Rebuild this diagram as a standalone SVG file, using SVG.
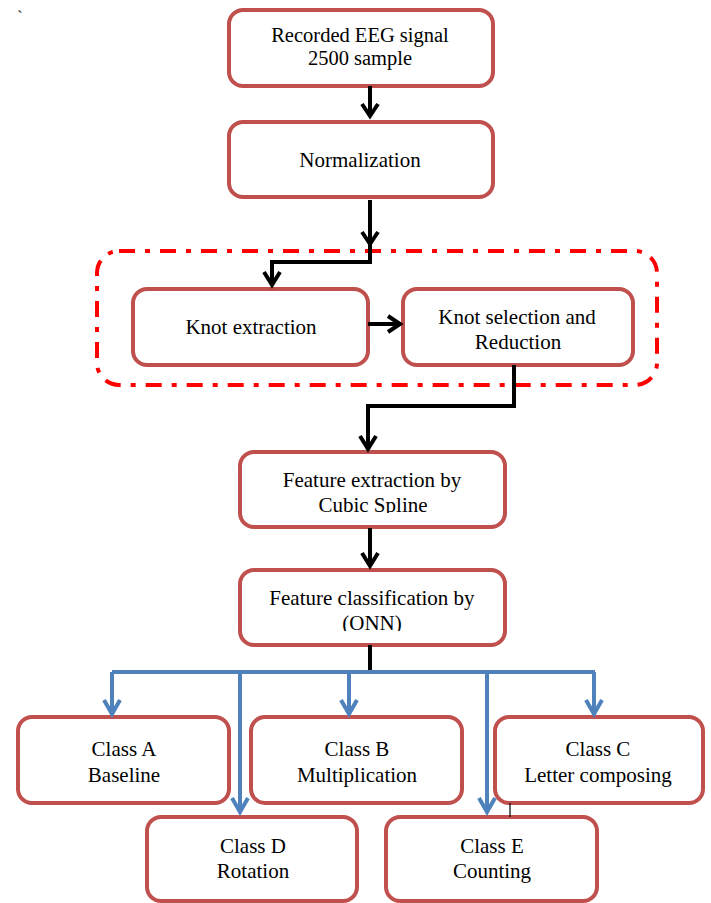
<svg xmlns="http://www.w3.org/2000/svg" width="711" height="903" viewBox="0 0 711 903">
<defs>
<style>
.box{fill:#fff;stroke:#C0504D;stroke-width:4}
.t{font-family:'Liberation Serif','Times New Roman',Tinos,'DejaVu Serif',serif;font-size:21px;fill:#000;text-anchor:middle}
.blk{fill:none;stroke:#000;stroke-width:4}
.blu{fill:none;stroke:#4F81BD;stroke-width:4}
.grp{fill:none;stroke:#FF0000;stroke-width:4;stroke-dasharray:16 10 5 10}
</style>
<clipPath id="c5"><rect x="240" y="452" width="265" height="61"/></clipPath>
<clipPath id="c6"><rect x="240" y="570" width="265" height="61"/></clipPath>
</defs>
<rect width="711" height="903" fill="#fff"/>
<text x="20" y="22" class="t" style="font-size:16px">`</text>
<g id="group-knot">
<rect x="97" y="251" width="560" height="134" rx="22" class="grp"/>
</g>
<g id="n1"><rect x="229" y="10" width="264" height="76" rx="14" class="box"/><text x="360" y="42" class="t" style="font-size:20.5px">Recorded EEG signal</text><text x="360" y="65" class="t" style="font-size:20.5px">2500 sample</text></g>
<g id="n2"><rect x="229" y="122" width="264" height="75" rx="14" class="box"/><text x="360" y="167" class="t">Normalization</text></g>
<g id="n3"><rect x="133" y="289" width="235" height="76" rx="14" class="box"/><text x="251" y="334" class="t">Knot extraction</text></g>
<g id="n4"><rect x="403" y="289" width="230" height="76" rx="14" class="box"/><text x="517" y="324" class="t">Knot selection and</text><text x="518" y="349" class="t">Reduction</text></g>
<g id="n5"><rect x="240" y="452" width="265" height="75" rx="14" class="box"/><text x="372" y="487" class="t">Feature extraction by</text><text x="373" y="512" class="t" clip-path="url(#c5)">Cubic Spline</text></g>
<g id="n6"><rect x="240" y="570" width="265" height="75" rx="14" class="box"/><text x="372" y="605" class="t">Feature classification by</text><text x="372" y="630" class="t" clip-path="url(#c6)">(ONN)</text></g>
<g id="nA"><rect x="18" y="717" width="211" height="86" rx="14" class="box"/><text x="124" y="756" class="t">Class A</text><text x="124" y="782" class="t">Baseline</text></g>
<g id="nB"><rect x="251" y="717" width="211" height="86" rx="14" class="box"/><text x="357" y="756" class="t">Class B</text><text x="357" y="782" class="t">Multiplication</text></g>
<g id="nC"><rect x="495" y="717" width="208" height="86" rx="14" class="box"/><text x="598" y="756" class="t">Class C</text><text x="598" y="782" class="t">Letter composing</text></g>
<g id="nD"><rect x="147" y="817" width="210" height="84" rx="14" class="box"/><text x="253" y="853" class="t">Class D</text><text x="253" y="878" class="t">Rotation</text></g>
<g id="nE"><rect x="386" y="817" width="211" height="84" rx="14" class="box"/><text x="492" y="853" class="t">Class E</text><text x="492" y="878" class="t">Counting</text></g>
<g id="connectors">
<path class="blk" d="M370 86V116"/><path class="blk" d="M362 104L370 116L378 104"/>
<path class="blk" d="M370 200V262H272V285"/><path class="blk" d="M362 232L370 244L378 232"/><path class="blk" d="M264 272L272 285L280 272"/>
<path class="blk" d="M368 324H400"/><path class="blk" d="M388 316L400 324L388 332"/>
<path class="blk" d="M514 365V406H368V449"/><path class="blk" d="M360 436L368 449L376 436"/>
<path class="blk" d="M370 528V566"/><path class="blk" d="M362 553L370 566L378 553"/>
<path class="blk" d="M370 645V672"/>
<path class="blu" d="M112 672H595"/>
<path class="blu" d="M112 672V714"/><path class="blu" d="M104 700L112 714L120 700"/>
<path class="blu" d="M349 672V714"/><path class="blu" d="M341 700L349 714L357 700"/>
<path class="blu" d="M594 672V714"/><path class="blu" d="M586 700L594 714L602 700"/>
<path class="blu" d="M240 672V812"/><path class="blu" d="M232 798L240 812L248 798"/>
<path class="blu" d="M487 672V812"/><path class="blu" d="M479 798L487 812L495 798"/>
<path d="M510 803V817" stroke="#000" stroke-width="1.2" fill="none"/>
</g>
</svg>
